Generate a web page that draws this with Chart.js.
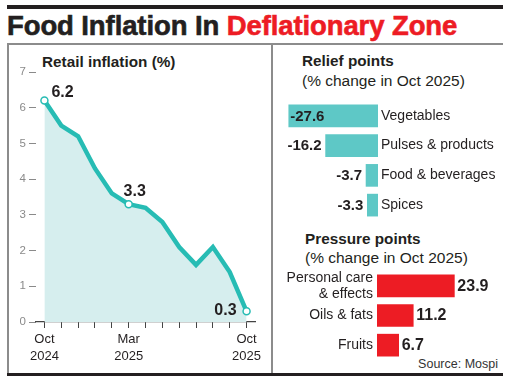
<!DOCTYPE html>
<html><head><meta charset="utf-8">
<script src="https://cdn.jsdelivr.net/npm/chart.js@4/dist/chart.umd.min.js"></script>
<style>
html,body{margin:0;padding:0;background:#fff;}
body{width:516px;height:379px;position:relative;overflow:hidden;font-family:"Liberation Sans",Arial,sans-serif;color:#231f20;}
.a{position:absolute;white-space:nowrap;}
canvas{position:absolute;}
#topbar{left:7px;top:5px;width:496px;height:4px;background:#231f20;}
#ptop{left:7px;top:43px;width:496px;height:2px;background:#8c8c8c;}
#pleft{left:7px;top:43px;width:1.5px;height:331px;background:#8c8c8c;}
#pdiv{left:271px;top:43px;width:2px;height:331px;background:#8c8c8c;}
#pbot{left:7px;top:373px;width:496px;height:2.5px;background:#231f20;}
#title{left:7px;top:10.5px;font-size:27.5px;line-height:30px;font-weight:bold;-webkit-text-stroke:0.6px currentColor;letter-spacing:-0.1px;}
#title .r{color:#ed1c24;}
.h{font-weight:bold;font-size:15.3px;line-height:18px;}
.s{font-size:15.5px;line-height:18px;}
</style></head>
<body>
<div class="a" id="topbar"></div>
<div class="a" id="ptop"></div>
<div class="a" id="pleft"></div>
<div class="a" id="pdiv"></div>
<div class="a" id="pbot"></div>
<div class="a" id="title">Food Inflation In <span class="r">Deflationary Zone</span></div>
<div class="a h" style="left:42px;top:52.7px;">Retail inflation (%)</div>
<div class="a h" style="left:302px;top:52.4px;">Relief points</div>
<div class="a s" style="left:302px;top:71.6px;">(% change in Oct 2025)</div>
<div class="a h" style="left:305px;top:229.7px;">Pressure points</div>
<div class="a s" style="left:305px;top:248.9px;">(% change in Oct 2025)</div>
<div class="a" style="right:18px;top:357px;font-size:12.5px;line-height:14px;color:#333;">Source: Mospi</div>

<canvas id="c1" width="262" height="327" style="left:8px;top:45px;width:262px;height:327px;"></canvas>
<canvas id="c2" width="244" height="119" style="left:272px;top:101px;width:244px;height:119px;"></canvas>
<canvas id="c3" width="244" height="89" style="left:272px;top:271px;width:244px;height:89px;"></canvas>

<script>
// ---- data ----
const months = ['Oct 2024','Nov 2024','Dec 2024','Jan 2025','Feb 2025','Mar 2025','Apr 2025','May 2025','Jun 2025','Jul 2025','Aug 2025','Sep 2025','Oct 2025'];
const inflation = [6.2, 5.5, 5.2, 4.3, 3.6, 3.3, 3.2, 2.8, 2.1, 1.6, 2.1, 1.4, 0.3];
const xTickLabels = [['Oct','2024'],'','','','',['Mar','2025'],'','','','','','',['Oct','2025']];
const labelledPoints = [0, 5, 12];
const yTicks = [0,1,2,3,4,5,6,7];

const reliefCats = ['Vegetables','Pulses & products','Food & beverages','Spices'];
const reliefVals = [-27.6, -16.2, -3.7, -3.3];

const pressureCats = [['Personal care','& effects'],'Oils & fats','Fruits'];
const pressureVals = [23.9, 11.2, 6.7];

// ---- styles ----
const F = '"Liberation Sans", Arial, sans-serif';
const TEAL = '#27bcb4';
const FILL = '#d6eeee';
const BAR_TEAL = '#5ec8c6';
const RED = '#ed1c24';
const DARK = '#231f20';

const pointLabelPlugin = {
  id:'pointLabels',
  afterDatasetsDraw(chart){
    const ctx = chart.ctx;
    const meta = chart.getDatasetMeta(0);
    ctx.save();
    ctx.font = 'bold 16px ' + F;
    ctx.fillStyle = DARK;
    ctx.textBaseline = 'middle';
    labelledPoints.forEach((i, k) => {
      const p = meta.data[i];
      const txt = inflation[i].toFixed(1);
      if (k === 0) { ctx.textAlign = 'left'; ctx.fillText(txt, p.x + 7, p.y - 8); }
      else if (k === labelledPoints.length - 1) { ctx.textAlign = 'right'; ctx.fillText(txt, p.x - 10, p.y - 1); }
      else { ctx.textAlign = 'center'; ctx.fillText(txt, p.x + 6, p.y - 13); }
    });
    ctx.restore();
  }
};

new Chart(document.getElementById('c1'), {
  type:'line',
  data:{labels:months, datasets:[{
    data:inflation, borderColor:TEAL, borderWidth:4.5, backgroundColor:FILL, fill:'origin', tension:0,
    pointRadius:ctx => labelledPoints.includes(ctx.dataIndex) ? 3.5 : 0,
    pointBackgroundColor:'#fff', pointBorderColor:TEAL, pointBorderWidth:1.5, clip:false
  }]},
  options:{
    animation:false, responsive:false, events:[],
    layout:{padding:{top:27,right:15,left:0,bottom:0}},
    plugins:{legend:{display:false}, tooltip:{enabled:false}},
    scales:{
      x:{offset:true,
        grid:{drawOnChartArea:false, tickLength:6, color:'#444', lineWidth:1},
        border:{color:'#444', width:1.2},
        ticks:{autoSkip:false, maxRotation:0, padding:3, color:DARK, font:{family:F, size:13, lineHeight:1.3},
          callback:(v,i) => xTickLabels[i]},
        afterFit:s => { s.height = 50; }},
      y:{min:0, max:7,
        afterBuildTicks:s => { s.ticks = yTicks.map(v => ({value:v})); },
        ticks:{padding:3, color:'#8a8a8a', font:{family:F, size:11.5}},
        grid:{drawOnChartArea:false, tickLength:7, color:'#8a8a8a'},
        border:{display:false},
        afterFit:s => { s.width = 28; }}
    }
  },
  plugins:[pointLabelPlugin]
});

function valueLabels(id, size, side){
  return {
    id,
    afterDatasetsDraw(chart){
      const ctx = chart.ctx;
      const meta = chart.getDatasetMeta(0);
      const vals = chart.data.datasets[0].data;
      ctx.save();
      ctx.font = 'bold ' + size + 'px ' + F;
      ctx.fillStyle = DARK;
      ctx.textBaseline = 'middle';
      meta.data.forEach((bar, i) => {
        const txt = vals[i].toFixed(1);
        const w = ctx.measureText(txt).width;
        if (side === 'left') {
          if (bar.x - 4 - w < 0) { ctx.textAlign = 'left'; ctx.fillText(txt, bar.x + 1.5, bar.y + 0.5); }
          else { ctx.textAlign = 'right'; ctx.fillText(txt, bar.x - 4, bar.y + 0.5); }
        } else {
          ctx.textAlign = 'left'; ctx.fillText(txt, bar.x + 3, bar.y + 0.5);
        }
      });
      ctx.restore();
    }
  };
}

function fixAxis(width){
  return s => { s.width = width; s.paddingTop = 0; s.paddingBottom = 0; };
}

new Chart(document.getElementById('c2'), {
  type:'bar',
  data:{labels:reliefCats, datasets:[{data:reliefVals, backgroundColor:BAR_TEAL, barThickness:22, borderWidth:0}]},
  options:{
    indexAxis:'y', animation:false, responsive:false, events:[],
    layout:{padding:{left:9,right:0,top:0,bottom:0}},
    plugins:{legend:{display:false}, tooltip:{enabled:false}},
    scales:{
      x:{display:false, min:-30, max:0},
      y:{position:'right', grid:{display:false, drawTicks:false}, border:{display:false},
        ticks:{autoSkip:false, padding:3, color:DARK, font:{family:F, size:14}},
        afterFit:fixAxis(138)}
    }
  },
  plugins:[valueLabels('v1', 15, 'left')]
});

new Chart(document.getElementById('c3'), {
  type:'bar',
  data:{labels:pressureCats, datasets:[{data:pressureVals, backgroundColor:RED, barThickness:22, borderWidth:0}]},
  options:{
    indexAxis:'y', animation:false, responsive:false, events:[],
    layout:{padding:{left:0,right:16,top:0,bottom:0}},
    plugins:{legend:{display:false}, tooltip:{enabled:false}},
    scales:{
      x:{display:false, min:0, max:38},
      y:{position:'left', grid:{display:false, drawTicks:false}, border:{display:false},
        ticks:{autoSkip:false, padding:4, color:DARK, font:{family:F, size:14, lineHeight:1.15}},
        afterFit:fixAxis(105)}
    }
  },
  plugins:[valueLabels('v2', 16, 'right')]
});
</script>
</body></html>
